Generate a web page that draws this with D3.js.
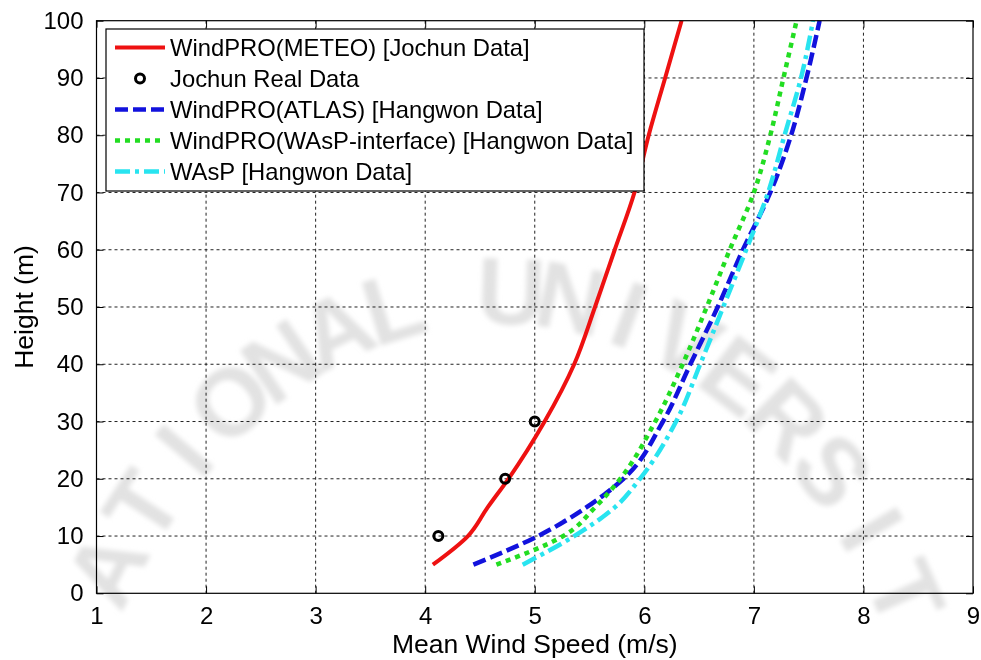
<!DOCTYPE html>
<html>
<head>
<meta charset="utf-8">
<script src="https://cdn.jsdelivr.net/npm/d3@7"></script>
<style>
  body { margin: 0; background: #fff; }
  svg { display: block; font-family: "Liberation Sans", Arial, sans-serif; }
</style>
</head>
<body>
<div id="chart"></div>
<script>
// data (height in m, speed in m/s)
const heights = [5, 10, 15, 20, 30, 40, 50, 60, 70, 80, 90, 100];
const meteoSpeed = [4.07, 4.39, 4.57, 4.76, 5.09, 5.36, 5.55, 5.73, 5.91, 6.04, 6.19, 6.34];
const atlasSpeed = [4.44, 5.03, 5.47, 5.81, 6.17, 6.42, 6.67, 6.90, 7.15, 7.34, 7.48, 7.60];
const waspIfSpeed = [4.65, 5.26, 5.55, 5.78, 6.10, 6.35, 6.57, 6.78, 7.00, 7.15, 7.27, 7.39];
const waspSpeed = [4.89, 5.36, 5.73, 5.96, 6.29, 6.51, 6.72, 6.93, 7.13, 7.28, 7.43, 7.54];

const realHeights = [10, 20, 30];
const realSpeed = [4.12, 4.73, 5.00];

const xTicks = [1, 2, 3, 4, 5, 6, 7, 8, 9];
const yTicks = [0, 10, 20, 30, 40, 50, 60, 70, 80, 90, 100];

const legendLabels = [
  "WindPRO(METEO) [Jochun Data]",
  "Jochun Real Data",
  "WindPRO(ATLAS) [Hangwon Data]",
  "WindPRO(WAsP-interface) [Hangwon Data]",
  "WAsP [Hangwon Data]"
];

// visible part of the background watermark
const watermark = "ATIONAL UNIVERSIT";

// 1: SIZES
const W = 981, H = 660;
const margin = { top: 20.7, right: 8, bottom: 66.7, left: 96.5 };
const width = W - margin.left - margin.right;
const height = H - margin.top - margin.bottom;

const svg = d3.select("#chart").append("svg")
  .attr("width", W)
  .attr("height", H);

// faint watermark letters along an arc (behind everything)
const blur = svg.append("defs").append("filter").attr("id", "soft");
blur.append("feGaussianBlur").attr("stdDeviation", 2.5);

const wm = svg.append("g").attr("filter", "url(#soft)");
const cx = 500, cy = 900, rx = 470, ry = 610;
watermark.split("").forEach((ch, i) => {
  if (ch === " ") return;
  const t = (147 - i * 7.3) * Math.PI / 180;
  const px = cx + rx * Math.cos(t);
  const py = cy - ry * Math.sin(t);
  const rot = Math.atan2(ry * Math.cos(t), rx * Math.sin(t)) * 180 / Math.PI;
  wm.append("text")
    .attr("transform", `translate(${px},${py}) rotate(${rot})`)
    .attr("text-anchor", "middle")
    .attr("dy", "0.36em")
    .attr("font-size", 95)
    .attr("font-weight", "bold")
    .attr("fill", "#e2e2e2")
    .text(ch);
});

const g = svg.append("g")
  .attr("transform", `translate(${margin.left},${margin.top})`);

// 2: SCALES
const x = d3.scaleLinear().domain([1, 9]).range([0, width]);
const y = d3.scaleLinear().domain([0, 100]).range([height, 0]);

// 3: GRID (matlab dotted)
g.append("g")
  .selectAll("line")
  .data(xTicks.slice(1, -1))
  .join("line")
  .attr("x1", d => x(d)).attr("x2", d => x(d))
  .attr("y1", 0).attr("y2", height)
  .attr("stroke", "#222").attr("stroke-width", 1)
  .attr("stroke-dasharray", "3,3");

g.append("g")
  .selectAll("line")
  .data(yTicks.slice(1, -1))
  .join("line")
  .attr("y1", d => y(d)).attr("y2", d => y(d))
  .attr("x1", 0).attr("x2", width)
  .attr("stroke", "#222").attr("stroke-width", 1)
  .attr("stroke-dasharray", "3,3");

// 4: SERIES
const series = [
  { name: legendLabels[0], speed: meteoSpeed, color: "#ee1111", dash: null, w: 4 },
  { name: legendLabels[2], speed: atlasSpeed, color: "#1212dd", dash: "13,5", w: 4.5 },
  { name: legendLabels[3], speed: waspIfSpeed, color: "#22dd22", dash: "5,5", w: 4.5 },
  { name: legendLabels[4], speed: waspSpeed, color: "#28e4f0", dash: "15,5,4,5", w: 4.5 }
];

const line = d3.line()
  .x(d => x(d[0]))
  .y(d => y(d[1]))
  .curve(d3.curveMonotoneY);

series.forEach(s => {
  g.append("path")
    .datum(s.speed.map((v, i) => [v, heights[i]]))
    .attr("d", line)
    .attr("fill", "none")
    .attr("stroke", s.color)
    .attr("stroke-width", s.w)
    .attr("stroke-dasharray", s.dash);
});

g.selectAll(".real-pt")
  .data(realSpeed.map((v, i) => [v, realHeights[i]]))
  .join("circle")
  .attr("class", "real-pt")
  .attr("cx", d => x(d[0]))
  .attr("cy", d => y(d[1]))
  .attr("r", 4.5)
  .attr("fill", "none")
  .attr("stroke", "#000")
  .attr("stroke-width", 3);

// 5: AXES (box with inward ticks)
const tickLen = 7;
const axisStyle = sel => {
  sel.select(".domain").remove();
  sel.selectAll(".tick line").attr("stroke", "#000");
  sel.selectAll("text").attr("font-size", 24).attr("fill", "#000");
};

g.append("g")
  .attr("transform", `translate(0,${height})`)
  .call(d3.axisBottom(x).tickValues(xTicks).tickSizeInner(-tickLen).tickSizeOuter(0).tickPadding(14))
  .call(axisStyle);

g.append("g")
  .call(d3.axisTop(x).tickValues(xTicks).tickSizeInner(-tickLen).tickSizeOuter(0).tickFormat(""))
  .call(axisStyle);

g.append("g")
  .call(d3.axisLeft(y).tickValues(yTicks).tickSizeInner(-tickLen).tickSizeOuter(0).tickPadding(13))
  .call(axisStyle);

g.append("g")
  .attr("transform", `translate(${width},0)`)
  .call(d3.axisRight(y).tickValues(yTicks).tickSizeInner(-tickLen).tickSizeOuter(0).tickFormat(""))
  .call(axisStyle);

g.append("rect")
  .attr("width", width).attr("height", height)
  .attr("fill", "none").attr("stroke", "#000").attr("stroke-width", 1.2);

// 6: LABELS
svg.append("text")
  .attr("x", margin.left + width / 2)
  .attr("y", 653)
  .attr("text-anchor", "middle")
  .attr("font-size", 26.5)
  .text("Mean Wind Speed (m/s)");

svg.append("text")
  .attr("transform", `translate(33,${margin.top + height / 2}) rotate(-90)`)
  .attr("text-anchor", "middle")
  .attr("font-size", 26.5)
  .text("Height (m)");

// 7: LEGEND
const legend = svg.append("g").attr("class", "legend");
legend.append("rect")
  .attr("x", 106).attr("y", 29)
  .attr("width", 538).attr("height", 162)
  .attr("fill", "#fff").attr("stroke", "#000").attr("stroke-width", 1.2);

const legendItems = [
  { label: legendLabels[0], color: "#ee1111", dash: null, w: 4, marker: false },
  { label: legendLabels[1], color: "#000", dash: null, w: 0, marker: true },
  { label: legendLabels[2], color: "#1212dd", dash: "13,5", w: 4.5, marker: false },
  { label: legendLabels[3], color: "#22dd22", dash: "5,5", w: 4.5, marker: false },
  { label: legendLabels[4], color: "#28e4f0", dash: "15,5,4,5", w: 4.5, marker: false }
];

const rows = legend.selectAll(".row")
  .data(legendItems)
  .join("g")
  .attr("class", "row")
  .attr("transform", (d, i) => `translate(0,${47.5 + i * 31})`);

rows.filter(d => !d.marker).append("line")
  .attr("x1", 115).attr("x2", 165)
  .attr("stroke", d => d.color)
  .attr("stroke-width", d => d.w)
  .attr("stroke-dasharray", d => d.dash);

rows.filter(d => d.marker).append("circle")
  .attr("cx", 140).attr("r", 4.5)
  .attr("fill", "none").attr("stroke", "#000").attr("stroke-width", 3);

rows.append("text")
  .attr("x", 170)
  .attr("dy", "0.35em")
  .attr("font-size", 23.8)
  .text(d => d.label);
</script>
</body>
</html>
